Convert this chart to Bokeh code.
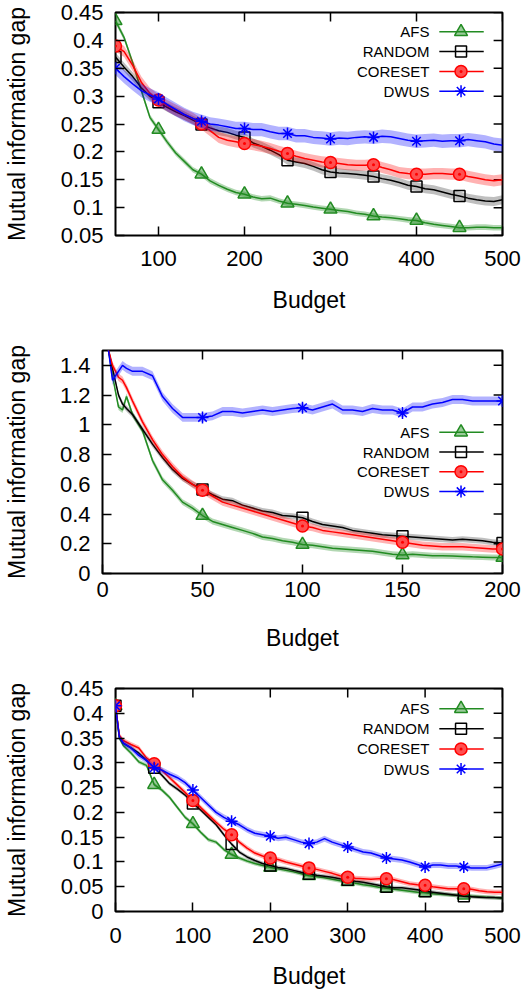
from bokeh.plotting import figure
from bokeh.models import Range1d, FixedTicker
from bokeh.layouts import column, row
from bokeh.embed import file_html
from bokeh.resources import INLINE
from bokeh.core.properties import value

# ---------------- data ----------------
series_names = ["AFS", "RANDOM", "CORESET", "DWUS"]

# Panel 1
x1 = [50, 60, 70, 80, 90, 100, 110, 120, 130, 140, 150, 160, 170, 180, 190,
      200, 210, 220, 230, 240, 250, 260, 270, 280, 290, 300, 310, 320, 330, 340,
      350, 360, 370, 380, 390, 400, 410, 420, 430, 440, 450, 460, 470, 480, 490, 500]
afs1 = [0.435, 0.405, 0.36, 0.31, 0.262, 0.24, 0.218, 0.198, 0.183, 0.168, 0.16, 0.148, 0.14, 0.133, 0.127,
        0.124, 0.119, 0.116, 0.117, 0.112, 0.108, 0.106, 0.104, 0.101, 0.099, 0.097, 0.095, 0.093, 0.09, 0.088,
        0.085, 0.083, 0.082, 0.08, 0.078, 0.077, 0.073, 0.07, 0.068, 0.066, 0.064, 0.064, 0.065, 0.065, 0.064, 0.064]
random1 = [0.37, 0.352, 0.335, 0.315, 0.3, 0.289, 0.28, 0.272, 0.265, 0.257, 0.249, 0.243, 0.238, 0.235, 0.23,
           0.226, 0.216, 0.21, 0.203, 0.195, 0.185, 0.182, 0.179, 0.174, 0.168, 0.164, 0.162, 0.161, 0.16, 0.158,
           0.156, 0.152, 0.149, 0.145, 0.14, 0.138, 0.134, 0.132, 0.128, 0.124, 0.121, 0.117, 0.114, 0.112, 0.111, 0.114]
coreset1 = [0.39, 0.38, 0.355, 0.325, 0.305, 0.293, 0.283, 0.275, 0.267, 0.26, 0.25, 0.238, 0.226, 0.221, 0.218,
            0.215, 0.213, 0.21, 0.206, 0.201, 0.197, 0.192, 0.188, 0.185, 0.182, 0.181, 0.179, 0.177, 0.176, 0.176,
            0.177, 0.172, 0.168, 0.163, 0.161, 0.16, 0.16, 0.161, 0.161, 0.16, 0.16, 0.156, 0.153, 0.15, 0.148, 0.15]
dwus1 = [0.35, 0.335, 0.322, 0.31, 0.302, 0.295, 0.285, 0.276, 0.267, 0.26, 0.255, 0.25, 0.248, 0.245, 0.242,
         0.242, 0.24, 0.24, 0.236, 0.233, 0.233, 0.229, 0.229, 0.226, 0.225, 0.223, 0.225, 0.224, 0.226, 0.227,
         0.226, 0.228, 0.227, 0.224, 0.221, 0.219, 0.22, 0.221, 0.219, 0.22, 0.22, 0.222, 0.22, 0.218, 0.214, 0.212]
band1 = [0.005, 0.008, 0.01, 0.012]
marks1 = [50, 100, 150, 200, 250, 300, 350, 400, 450]
xt1 = [100, 200, 300, 400, 500]
xl1 = ["100", "200", "300", "400", "500"]
yt1 = [0.05, 0.1, 0.15, 0.2, 0.25, 0.3, 0.35, 0.4, 0.45]
yl1 = ["0.05", "0.1", "0.15", "0.2", "0.25", "0.3", "0.35", "0.4", "0.45"]

# Panel 2
x2 = [0, 3, 5, 8, 10, 12, 15, 20, 25, 30, 35, 40, 45, 50, 55, 60, 65, 70, 75, 80, 85, 90, 95,
      100, 105, 110, 115, 120, 125, 130, 135, 140, 145, 150, 155, 160, 165, 170, 175, 180, 185, 190, 195, 200]
afs2 = [1.75, 1.5, 1.33, 1.12, 1.10, 1.19, 1.07, 0.96, 0.76, 0.63, 0.56, 0.48, 0.44, 0.39, 0.35, 0.33, 0.31, 0.29,
        0.27, 0.245, 0.235, 0.22, 0.21, 0.195, 0.19, 0.18, 0.17, 0.165, 0.16, 0.155, 0.15, 0.14, 0.13, 0.125, 0.13,
        0.125, 0.12, 0.12, 0.118, 0.115, 0.112, 0.11, 0.108, 0.107]
random2 = [1.75, 1.5, 1.38, 1.2, 1.14, 1.11, 1.07, 0.97, 0.87, 0.78, 0.70, 0.64, 0.60, 0.565, 0.53, 0.50, 0.49, 0.46,
           0.44, 0.42, 0.41, 0.39, 0.385, 0.375, 0.35, 0.33, 0.32, 0.31, 0.29, 0.28, 0.27, 0.26, 0.255, 0.25, 0.245,
           0.24, 0.235, 0.23, 0.225, 0.23, 0.225, 0.22, 0.21, 0.205]
coreset2 = [1.75, 1.5, 1.40, 1.32, 1.30, 1.25, 1.16, 1.02, 0.90, 0.80, 0.72, 0.65, 0.60, 0.56, 0.52, 0.48, 0.46, 0.44,
            0.42, 0.40, 0.38, 0.36, 0.34, 0.32, 0.31, 0.29, 0.28, 0.27, 0.26, 0.25, 0.24, 0.23, 0.22, 0.21, 0.20,
            0.19, 0.185, 0.18, 0.18, 0.18, 0.175, 0.17, 0.165, 0.165]
dwus2 = [1.75, 1.5, 1.30, 1.36, 1.40, 1.38, 1.36, 1.36, 1.33, 1.19, 1.11, 1.05, 1.05, 1.05, 1.06, 1.09, 1.09, 1.08,
         1.09, 1.10, 1.09, 1.10, 1.11, 1.115, 1.10, 1.12, 1.14, 1.10, 1.10, 1.09, 1.11, 1.10, 1.10, 1.08, 1.12,
         1.12, 1.14, 1.15, 1.17, 1.17, 1.16, 1.16, 1.16, 1.16]
band2 = [0.02, 0.02, 0.025, 0.03]
marks2 = [50, 100, 150, 200]
xt2 = [0, 50, 100, 150, 200]
xl2 = ["0", "50", "100", "150", "200"]
yt2 = [0, 0.2, 0.4, 0.6, 0.8, 1.0, 1.2, 1.4]
yl2 = ["0", "0.2", "0.4", "0.6", "0.8", "1", "1.2", "1.4"]

# Panel 3
x3 = [0, 5, 10, 20, 30, 40, 50, 60, 70, 80, 90, 100, 110, 120, 130, 140, 150, 160, 170, 180, 190,
      200, 210, 220, 230, 240, 250, 260, 270, 280, 290, 300, 310, 320, 330, 340, 350, 360, 370, 380, 390,
      400, 410, 420, 430, 440, 450, 460, 470, 480, 490, 500]
afs3 = [0.415, 0.35, 0.335, 0.32, 0.302, 0.295, 0.256, 0.245, 0.23, 0.21, 0.19, 0.177, 0.16, 0.145, 0.14, 0.125,
        0.115, 0.108, 0.102, 0.097, 0.093, 0.089, 0.086, 0.083, 0.08, 0.076, 0.072, 0.07, 0.068, 0.065, 0.062,
        0.06, 0.057, 0.054, 0.052, 0.049, 0.047, 0.045, 0.043, 0.041, 0.039, 0.038, 0.036, 0.035, 0.034, 0.033,
        0.033, 0.031, 0.03, 0.029, 0.028, 0.027]
random3 = [0.415, 0.352, 0.34, 0.33, 0.32, 0.305, 0.29, 0.275, 0.258, 0.247, 0.235, 0.218, 0.205, 0.19, 0.175, 0.155,
           0.136, 0.12, 0.11, 0.103, 0.097, 0.093, 0.089, 0.087, 0.083, 0.079, 0.076, 0.073, 0.071, 0.069, 0.066,
           0.064, 0.061, 0.059, 0.056, 0.053, 0.05, 0.048, 0.048, 0.046, 0.044, 0.041, 0.039, 0.037, 0.035, 0.033,
           0.031, 0.03, 0.029, 0.028, 0.028, 0.027]
coreset3 = [0.415, 0.355, 0.345, 0.337, 0.33, 0.31, 0.298, 0.285, 0.27, 0.255, 0.24, 0.224, 0.21, 0.195, 0.18, 0.166,
            0.155, 0.14, 0.128, 0.118, 0.112, 0.108, 0.105, 0.1, 0.096, 0.092, 0.088, 0.085, 0.081, 0.077, 0.072,
            0.069, 0.067, 0.066, 0.065, 0.066, 0.066, 0.064, 0.06, 0.056, 0.054, 0.053, 0.05, 0.048, 0.046, 0.046,
            0.046, 0.045, 0.042, 0.04, 0.039, 0.039]
dwus3 = [0.415, 0.352, 0.34, 0.33, 0.315, 0.305, 0.29, 0.285, 0.277, 0.27, 0.26, 0.245, 0.23, 0.215, 0.2, 0.19,
         0.182, 0.175, 0.165, 0.158, 0.155, 0.152, 0.148, 0.15, 0.145, 0.14, 0.137, 0.14, 0.147, 0.14, 0.135,
         0.13, 0.125, 0.12, 0.118, 0.113, 0.108, 0.106, 0.104, 0.1, 0.095, 0.09, 0.094, 0.094, 0.092, 0.092,
         0.09, 0.088, 0.088, 0.088, 0.092, 0.096]
band3 = [0.004, 0.004, 0.005, 0.006]
marks3 = [0, 50, 100, 150, 200, 250, 300, 350, 400, 450]
xt3 = [0, 100, 200, 300, 400, 500]
xl3 = ["0", "100", "200", "300", "400", "500"]
yt3 = [0, 0.05, 0.1, 0.15, 0.2, 0.25, 0.3, 0.35, 0.4, 0.45]
yl3 = ["0", "0.05", "0.1", "0.15", "0.2", "0.25", "0.3", "0.35", "0.4", "0.45"]

# ---------------- style ----------------
FONT = "Liberation Sans"
colors = ["#228b22", "#000000", "#ff0000", "#0000ff"]
band_alpha = [0.35, 0.25, 0.3, 0.3]
marker_style = [
    dict(marker="triangle", size=13, fill_color="#228b22", fill_alpha=0.45, line_color="#228b22", line_width=1.5),
    dict(marker="square", size=11, fill_color=None, line_color="#000000", line_width=1.5),
    dict(marker="circle_dot", size=12, fill_color="#ff5050", line_color="#ff0000", line_width=1.5),
    dict(marker="asterisk", size=12, fill_color=None, line_color="#0000ff", line_width=1.5),
]
TICK = 9


def style_axis(ax, ticks, labels):
    ax.ticker = FixedTicker(ticks=ticks)
    ax.major_tick_in = TICK
    ax.major_tick_out = 0
    ax.minor_tick_line_color = None
    ax.axis_line_color = None
    ax.major_tick_line_color = "black"
    ax.major_tick_line_width = 1.5
    ax.major_label_overrides = {t: l for t, l in zip(ticks, labels)}
    ax.major_label_text_font = FONT
    ax.major_label_text_font_size = "22px"
    ax.major_label_text_color = "black"
    ax.axis_label_text_font = FONT
    ax.axis_label_text_font_size = "23px"
    ax.axis_label_text_font_style = "normal"
    ax.axis_label_text_color = "black"


def make_panel(xs, ys, bands, marks, xr, yr, xt, xl, yt, yl, w, h, mbl, mbr, mbt, mbb,
               leg_rows, x_stand, y_stand):
    p = figure(width=w, height=h, x_range=Range1d(*xr), y_range=Range1d(*yr),
               output_backend="svg", toolbar_location=None,
               min_border_left=mbl, min_border_right=mbr, min_border_top=mbt, min_border_bottom=mbb)
    p.grid.visible = False
    p.outline_line_color = "black"
    p.outline_line_width = 2
    p.background_fill_color = "white"
    p.border_fill_color = "white"

    style_axis(p.xaxis[0], xt, xl)
    style_axis(p.yaxis[0], yt, yl)
    p.xaxis[0].axis_label = "Budget"
    p.yaxis[0].axis_label = "Mutual information gap"
    p.xaxis[0].major_label_standoff = x_stand[0]
    p.xaxis[0].axis_label_standoff = x_stand[1]
    p.yaxis[0].major_label_standoff = y_stand[0]
    p.yaxis[0].axis_label_standoff = y_stand[1]

    fw = w - mbl - mbr
    fh = h - mbt - mbb
    sx = (xr[1] - xr[0]) / fw   # data units per pixel
    sy = (yr[1] - yr[0]) / fh

    # mirrored inward ticks on the top and right edges
    p.segment(x0=xt, y0=[yr[1]] * len(xt), x1=xt, y1=[yr[1] - TICK * sy] * len(xt),
              line_color="black", line_width=1.5)
    p.segment(x0=[xr[1]] * len(yt), y0=yt, x1=[xr[1] - TICK * sx] * len(yt), y1=yt,
              line_color="black", line_width=1.5)

    for i, y in enumerate(ys):
        c = colors[i]
        lo = [v - bands[i] for v in y]
        hi = [v + bands[i] for v in y]
        p.varea(x=xs, y1=lo, y2=hi, fill_color=c, fill_alpha=band_alpha[i])
        p.line(x=xs, y=y, line_color=c, line_width=1.5)
        lookup = dict(zip(xs, y))
        p.scatter(x=marks, y=[lookup[m] for m in marks], **marker_style[i])

    # legend (text on the left, sample on the right), placed in frame pixels
    def dx(px):
        return xr[0] + px * sx

    def dy(py):
        return yr[1] - py * sy

    text_r, l0, l1, mk = 428 - mbl, 438 - mbl, 483 - mbl, 460 - mbl
    for i, name in enumerate(series_names):
        ry = dy(leg_rows[0] + leg_rows[1] * i)
        p.text(x=[dx(text_r)], y=[ry], text=[name], text_align="right", text_baseline="middle",
               text_font=value(FONT), text_font_size="15px", text_color="black")
        p.line(x=[dx(l0), dx(l1)], y=[ry, ry], line_color=colors[i], line_width=1.5)
        p.scatter(x=[dx(mk)], y=[ry], **marker_style[i])
    return p


p1 = make_panel(x1, [afs1, random1, coreset1, dwus1], band1, marks1, (50, 500), (0.05, 0.45),
                xt1, xl1, yt1, yl1, 528, 320, 110, 26, 12, 85, (19.3, 19.8), (15, 18), (12, 28))
p2 = make_panel(x2, [afs2, random2, coreset2, dwus2], band2, marks2, (0, 200), (0, 1.5),
                xt2, xl2, yt2, yl2, 528, 335, 97, 26, 30, 82, (81.7, 19.8), (8, 25), (12, 27))
p3 = make_panel(x3, [afs3, random3, coreset3, dwus3], band3, marks3, (0, 500), (0, 0.45),
                xt3, xl3, yt3, yl3, 528, 336, 110, 26, 33, 79, (20.3, 20.2), (16, 17), (12, 28))

layout = column(row(p1), row(p2), row(p3), spacing=0)
open("out.html", "w").write(file_html(layout, INLINE))
